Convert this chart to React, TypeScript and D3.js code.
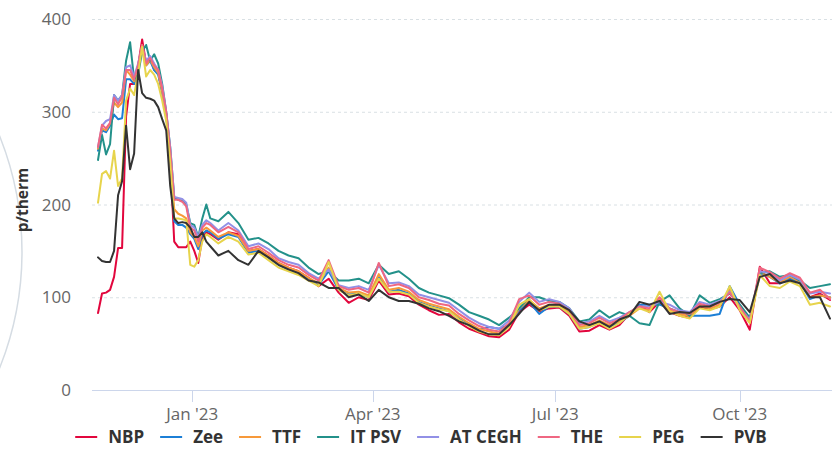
import { useEffect, useRef } from 'react';
import * as d3 from 'd3';

// sample dates (2-day steps through the winter spike, 5-day steps after)
const dates = [
  "2022-11-15", "2022-11-17", "2022-11-19", "2022-11-21", "2022-11-23", "2022-11-25", "2022-11-27", "2022-11-29",
  "2022-12-01", "2022-12-03", "2022-12-05", "2022-12-07", "2022-12-09", "2022-12-11", "2022-12-13", "2022-12-15",
  "2022-12-17", "2022-12-19", "2022-12-21", "2022-12-23", "2022-12-25", "2022-12-27", "2022-12-29", "2022-12-31",
  "2023-01-02", "2023-01-04", "2023-01-06", "2023-01-08", "2023-01-10",
  "2023-01-14", "2023-01-19", "2023-01-24", "2023-01-29", "2023-02-03", "2023-02-08", "2023-02-13", "2023-02-18", "2023-02-23", "2023-02-28",
  "2023-03-05", "2023-03-10", "2023-03-15", "2023-03-20", "2023-03-25", "2023-03-30", "2023-04-04", "2023-04-09", "2023-04-14", "2023-04-19",
  "2023-04-24", "2023-04-29", "2023-05-04", "2023-05-09", "2023-05-14", "2023-05-19", "2023-05-24", "2023-05-29", "2023-06-03", "2023-06-08",
  "2023-06-13", "2023-06-18", "2023-06-23", "2023-06-28", "2023-07-03", "2023-07-08", "2023-07-13", "2023-07-18", "2023-07-23", "2023-07-28",
  "2023-08-02", "2023-08-07", "2023-08-12", "2023-08-17", "2023-08-22", "2023-08-27", "2023-09-01", "2023-09-06", "2023-09-11", "2023-09-16",
  "2023-09-21", "2023-09-26", "2023-10-01", "2023-10-06", "2023-10-11", "2023-10-16", "2023-10-21", "2023-10-26", "2023-10-31", "2023-11-05",
  "2023-11-10", "2023-11-15"
];

const nbp = [
  83, 104, 105, 108, 122, 153, 153, 295, 330, 330, 350, 378, 352, 358, 345, 342, 322, 298, 250, 160, 154, 154, 154, 160, 150, 137, 165, 170, 168,
  162, 170, 168, 150, 152, 145, 137, 132, 128, 121, 112, 120, 105, 94, 100, 97, 118, 103, 104, 101,
  92, 86, 81, 82, 73, 66, 62, 58, 57, 65, 84, 92, 85, 88, 89, 80, 63, 64, 70, 65,
  70, 82, 92, 84, 95, 84, 80, 78, 90, 87, 90, 100, 86, 65, 133, 115, 115, 122, 117, 100, 104, 97
];
const zee = [
  258, 280, 278, 285, 297, 292, 293, 335, 335, 330, 345, 368, 350, 355, 345, 340, 320, 296, 250, 182, 178, 178, 175, 168, 163, 152, 168, 172, 170,
  163, 168, 165, 148, 150, 143, 135, 130, 126, 119, 113, 128, 108, 103, 104, 100, 122, 106, 108, 104,
  95, 91, 88, 85, 77, 70, 65, 68, 66, 70, 86, 95, 82, 90, 90, 82, 66, 68, 73, 68,
  73, 80, 92, 92, 92, 88, 84, 80, 80, 80, 82, 112, 92, 75, 126, 122, 115, 120, 116, 98, 102, 100
];
const ttf = [
  260, 282, 280, 287, 310, 305, 310, 345, 340, 333, 348, 372, 350, 356, 348, 342, 322, 298, 250, 195, 190, 188, 185, 170, 165, 155, 172, 175, 172,
  165, 170, 166, 150, 152, 145, 137, 132, 128, 121, 115, 132, 110, 105, 106, 102, 125, 108, 110, 106,
  97, 93, 90, 87, 79, 72, 66, 63, 61, 70, 88, 97, 88, 92, 91, 84, 68, 70, 75, 70,
  74, 80, 88, 86, 98, 86, 82, 80, 91, 88, 92, 108, 88, 73, 127, 122, 116, 122, 117, 100, 102, 100
];
const itPsv = [
  248, 275, 254, 265, 318, 312, 318, 355, 375, 335, 340, 365, 372, 355, 362, 352, 330, 300, 262, 208, 205, 204, 200, 180, 178, 165, 185, 200, 185,
  182, 192, 180, 162, 164, 158, 150, 145, 142, 132, 125, 128, 118, 118, 120, 115, 135, 125, 128, 120,
  110, 105, 102, 99, 92, 84, 80, 76, 70, 78, 88, 100, 100, 96, 95, 88, 74, 76, 86, 78,
  84, 80, 72, 70, 95, 102, 88, 80, 102, 94, 98, 104, 92, 78, 126, 128, 122, 124, 118, 110, 112, 114
];
const atCegh = [
  262, 285, 290, 292, 318, 312, 318, 348, 350, 338, 352, 370, 355, 360, 352, 345, 328, 300, 262, 208, 207, 206, 202, 178, 175, 165, 178, 183, 180,
  172, 180, 172, 155, 158, 152, 142, 138, 135, 126, 120, 130, 113, 110, 112, 108, 135, 115, 116, 112,
  103, 100, 97, 94, 86, 78, 72, 68, 66, 75, 95, 105, 95, 98, 95, 88, 72, 74, 80, 74,
  78, 84, 90, 90, 95, 92, 86, 84, 95, 92, 96, 106, 88, 76, 128, 126, 118, 124, 119, 104, 106, 104
];
const the = [
  262, 286, 282, 288, 315, 308, 316, 345, 345, 335, 350, 372, 352, 358, 350, 345, 325, 300, 258, 205, 205, 203, 198, 175, 172, 160, 175, 180, 178,
  170, 176, 170, 152, 155, 148, 140, 135, 132, 124, 118, 140, 112, 108, 110, 105, 137, 112, 114, 110,
  100, 97, 93, 91, 82, 75, 69, 65, 63, 72, 98, 102, 92, 95, 93, 86, 70, 72, 78, 72,
  76, 84, 90, 88, 100, 88, 84, 82, 93, 90, 94, 105, 90, 74, 132, 127, 120, 126, 121, 105, 108, 98
];
const peg = [
  202, 233, 236, 228, 258, 220, 228, 312, 325, 318, 342, 370, 338, 345, 340, 330, 312, 290, 245, 185, 185, 184, 183, 135, 133, 140, 160, 168, 165,
  158, 165, 160, 146, 148, 140, 132, 128, 124, 118, 112, 138, 108, 102, 104, 100, 120, 106, 106, 103,
  94, 90, 87, 85, 76, 69, 63, 60, 59, 68, 92, 98, 86, 90, 90, 82, 66, 68, 72, 66,
  72, 82, 88, 84, 106, 85, 80, 77, 88, 86, 90, 112, 86, 72, 124, 112, 110, 117, 112, 92, 94, 90
];
const pvb = [
  143, 139, 138, 138, 150, 210, 225, 285, 238, 255, 345, 320, 315, 314, 312, 305, 292, 280, 220, 185, 180, 181, 180, 175, 165, 165, 170, 160, 155,
  145, 150, 140, 135, 150, 143, 135, 130, 126, 118, 116, 110, 110, 100, 103, 96, 108, 100, 96, 96,
  93, 88, 85, 80, 74, 70, 64, 60, 60, 70, 82, 95, 86, 92, 92, 86, 74, 70, 74, 68,
  76, 80, 95, 92, 96, 82, 84, 83, 90, 90, 95, 98, 97, 84, 122, 125, 115, 118, 115, 100, 100, 77
];

const seriesNames = ["NBP", "Zee", "TTF", "IT PSV", "AT CEGH", "THE", "PEG", "PVB"];
const seriesValues = [nbp, zee, ttf, itPsv, atCegh, the, peg, pvb];
const seriesColors = ["#e2063d", "#1c7fd6", "#f7993a", "#23918a", "#9290e6", "#ef6782", "#e7d44c", "#333333"];
const yTicks = [0, 100, 200, 300, 400];

const FONT = "'Open Sans', sans-serif";

const buildChart = (node) => {
  const svg = d3.select(node);
  svg.selectAll("*").remove();

  const parse = d3.timeParse("%Y-%m-%d");
  const xDates = dates.map(parse);

  const x = d3.scaleTime()
    .domain([new Date(2022, 10, 12), new Date(2023, 10, 16)])
    .range([92, 832]);
  const y = d3.scaleLinear().domain([0, 400]).range([390, 19]);

  // faint decorative ring on the left
  svg.append("circle")
    .attr("cx", -290).attr("cy", 252).attr("r", 312)
    .attr("fill", "none")
    .attr("stroke", "#d5dce3")
    .attr("stroke-width", 1.5);

  // grid
  svg.append("g").selectAll("line")
    .data(yTicks.filter(d => d > 0))
    .enter().append("line")
    .attr("x1", 92).attr("x2", 832)
    .attr("y1", d => y(d) + 0.5).attr("y2", d => y(d) + 0.5)
    .attr("stroke", "#d9e0e4")
    .attr("stroke-dasharray", "3,3");

  // y labels
  svg.append("g").selectAll("text")
    .data(yTicks)
    .enter().append("text")
    .attr("x", 71)
    .attr("y", d => y(d) + 6)
    .attr("text-anchor", "end")
    .attr("font-family", FONT)
    .attr("font-size", 17)
    .attr("fill", "#666666")
    .text(d => d);

  svg.append("text")
    .attr("transform", "translate(28,200) rotate(-90)")
    .attr("text-anchor", "middle")
    .attr("font-family", FONT)
    .attr("font-size", 15.5)
    .attr("font-weight", "bold")
    .attr("fill", "#333333")
    .text("p/therm");

  // x axis
  svg.append("line")
    .attr("x1", 92).attr("x2", 832)
    .attr("y1", 390.5).attr("y2", 390.5)
    .attr("stroke", "#ccd6eb");

  const xTicks = x.ticks(d3.timeMonth.every(3));
  const fmt = d3.timeFormat("%b '%y");
  const tg = svg.append("g");
  tg.selectAll("line")
    .data(xTicks)
    .enter().append("line")
    .attr("x1", d => Math.round(x(d)) + 0.5).attr("x2", d => Math.round(x(d)) + 0.5)
    .attr("y1", 390).attr("y2", 402)
    .attr("stroke", "#ccd6eb");
  tg.selectAll("text")
    .data(xTicks)
    .enter().append("text")
    .attr("x", d => x(d))
    .attr("y", 420)
    .attr("text-anchor", "middle")
    .attr("font-family", FONT)
    .attr("font-size", 17)
    .attr("fill", "#666666")
    .text(d => fmt(d));

  // series
  svg.append("defs").append("clipPath").attr("id", "plot-clip")
    .append("rect").attr("x", 92).attr("y", 0).attr("width", 740).attr("height", 392);

  const line = d3.line()
    .x((d, i) => x(xDates[i]))
    .y(d => y(d));

  const lg = svg.append("g").attr("clip-path", "url(#plot-clip)");
  seriesValues.forEach((vals, s) => {
    lg.append("path")
      .attr("d", line(vals))
      .attr("fill", "none")
      .attr("stroke", seriesColors[s])
      .attr("stroke-width", 2)
      .attr("stroke-linejoin", "round")
      .attr("stroke-linecap", "round");
  });

  // legend
  const leg = svg.append("g");
  const items = seriesNames.map((name, i) => {
    const g = leg.append("g");
    g.append("line")
      .attr("x1", 0).attr("x2", 22)
      .attr("y1", 437).attr("y2", 437)
      .attr("stroke", seriesColors[i])
      .attr("stroke-width", 2);
    const t = g.append("text")
      .attr("x", 33).attr("y", 443)
      .attr("font-family", FONT)
      .attr("font-size", 17)
      .attr("font-weight", "bold")
      .attr("fill", "#333333")
      .text(name);
    return { g, w: 33 + t.node().getComputedTextLength() };
  });
  const gap = 16;
  const total = d3.sum(items, d => d.w) + gap * (items.length - 1);
  let cx = 421 - total / 2;
  items.forEach(it => {
    it.g.attr("transform", `translate(${cx},0)`);
    cx += it.w + gap;
  });
};

const App = () => {
  const ref = useRef(null);
  useEffect(() => {
    buildChart(ref.current);
  }, []);
  return (
    <svg ref={ref} width={832} height={476}
      style={{ position: "absolute", left: 0, top: 0, background: "#ffffff" }} />
  );
};

export default App;
